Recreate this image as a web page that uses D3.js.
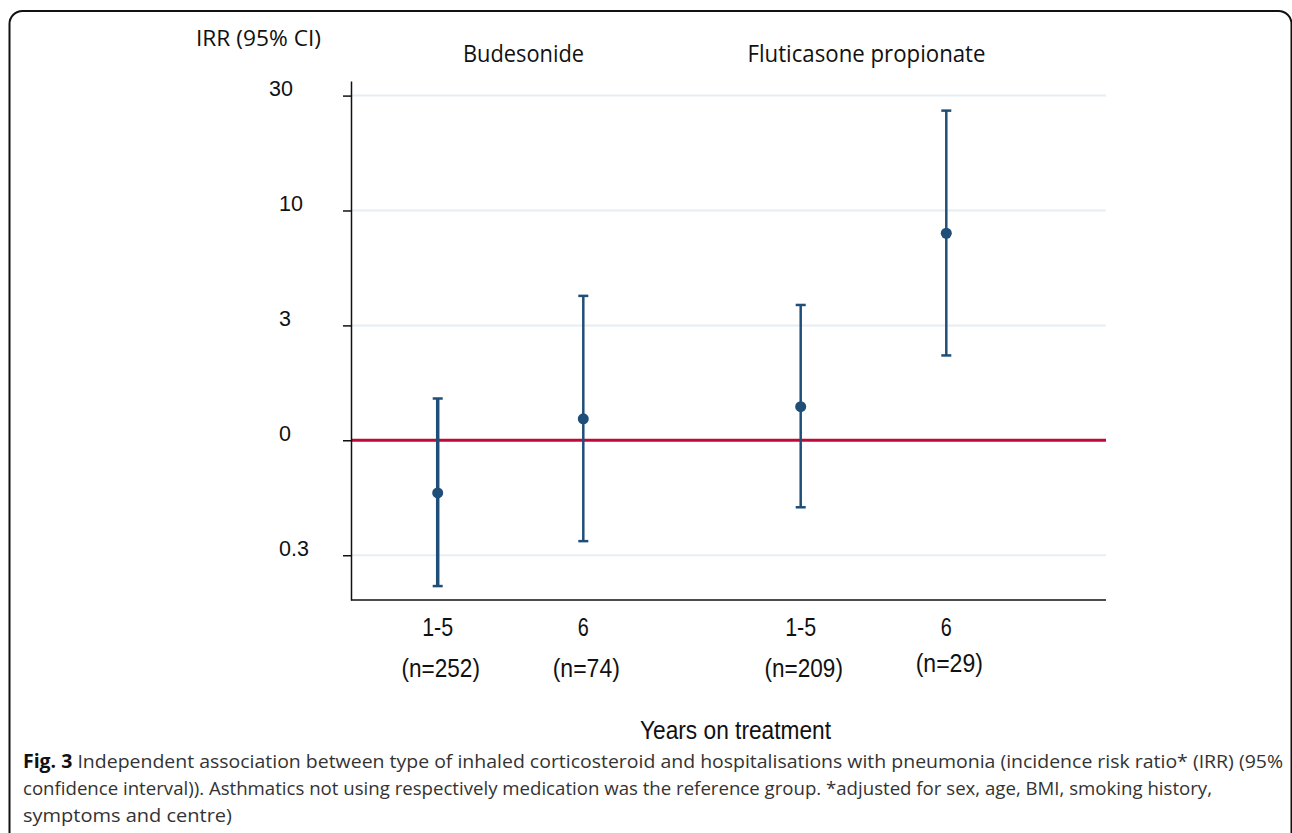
<!DOCTYPE html>
<html>
<head>
<meta charset="utf-8">
<script src="https://cdn.jsdelivr.net/npm/d3@7"></script>
<style>
body { margin: 0; background: #fff; }
svg { display: block; }
.hdr { font-family: "Open Sans", sans-serif; fill: #111; }
.tick text { font-family: "Liberation Sans", Arial, sans-serif; }
.xlab { font-family: "Liberation Sans Narrow", "Liberation Sans", Arial, sans-serif; fill: #111; }
.cap { font-family: "Open Sans", sans-serif; fill: #333; }
</style>
</head>
<body>
<div id="chart"></div>
<script>
// data
const groups = ["Budesonide", "Fluticasone propionate"];
const years = ["1-5", "6"];
const counts = ["(n=252)", "(n=74)", "(n=209)", "(n=29)"];
const irr = [0.59, 1.24, 1.40, 7.96];
const lower = [0.232, 0.364, 0.511, 2.34];
const upper = [1.52, 4.25, 3.88, 27.2];
const tickVals = [0.316, 1, 3.162, 10, 31.62];
const tickLabels = ["0.3", "0", "3", "10", "30"];

const svgWidth = 1292, svgHeight = 833;

const svg = d3.select("#chart")
  .append("svg")
  .attr("width", svgWidth)
  .attr("height", svgHeight);

// frame (open at the bottom)
svg.append("rect")
  .attr("x", 9.5).attr("y", 11)
  .attr("width", 1282).attr("height", 860)
  .attr("rx", 13)
  .attr("fill", "none")
  .attr("stroke", "#111")
  .attr("stroke-width", 2);

const plot = { left: 351, right: 1106, top: 81, bottom: 600 };

const y = d3.scaleLog()
  .domain([0.2018, 36.6])
  .range([plot.bottom, plot.top]);

const xGroup = d3.scalePoint().domain(groups).range([510.5, 873.5]);
const xYear = d3.scalePoint().domain(years).range([-72.8, 72.8]);

const rows = irr.map((v, i) => ({
  group: groups[Math.floor(i / 2)],
  year: years[i % 2],
  n: counts[i],
  irr: v,
  lo: lower[i],
  hi: upper[i]
}));
const xPos = d => xGroup(d.group) + xYear(d.year);

// gridlines
svg.append("g")
  .selectAll("line")
  .data(tickVals.filter(t => t !== 1))
  .enter()
  .append("line")
  .attr("x1", plot.left).attr("x2", plot.right)
  .attr("y1", d => y(d)).attr("y2", d => y(d))
  .attr("stroke", "#e6eef2")
  .attr("stroke-width", 2);

// reference line at IRR = 1
svg.append("line")
  .attr("x1", plot.left).attr("x2", plot.right)
  .attr("y1", y(1)).attr("y2", y(1))
  .attr("stroke", "#c00a35")
  .attr("stroke-width", 3);

// y axis
const yAxis = svg.append("g")
  .attr("transform", `translate(${plot.left},0)`)
  .call(d3.axisLeft(y).tickValues(tickVals).tickFormat((d, i) => tickLabels[i]).tickSize(8).tickSizeOuter(0));
yAxis.select(".domain").attr("stroke", "#111").attr("stroke-width", 1.5);
yAxis.selectAll(".tick line").attr("stroke", "#111").attr("stroke-width", 1.5);
yAxis.selectAll(".tick text")
  .attr("x", (d, i) => i === 4 ? -82 : -72)
  .attr("dy", 0)
  .attr("text-anchor", "start")
  .style("font-size", "21.5px")
  .attr("fill", "#111");

// x axis line
svg.append("line")
  .attr("x1", plot.left).attr("x2", plot.right)
  .attr("y1", plot.bottom).attr("y2", plot.bottom)
  .attr("stroke", "#111")
  .attr("stroke-width", 1.5);

// error bars
const blue = "#1f4e79";
const bars = svg.append("g");
bars.selectAll(".ci")
  .data(rows)
  .enter()
  .append("line")
  .attr("x1", xPos).attr("x2", xPos)
  .attr("y1", d => y(d.lo)).attr("y2", d => y(d.hi))
  .attr("stroke", blue)
  .attr("stroke-width", (d, i) => i === 0 ? 3.5 : 2.5);

["lo", "hi"].forEach(k => {
  bars.selectAll(".cap-" + k)
    .data(rows)
    .enter()
    .append("line")
    .attr("x1", d => xPos(d) - 5).attr("x2", d => xPos(d) + 5)
    .attr("y1", d => y(d[k])).attr("y2", d => y(d[k]))
    .attr("stroke", blue)
    .attr("stroke-width", 2.5);
});

bars.selectAll("circle")
  .data(rows)
  .enter()
  .append("circle")
  .attr("cx", xPos)
  .attr("cy", d => y(d.irr))
  .attr("r", 5.5)
  .attr("fill", blue);

// x labels
svg.selectAll(".yr")
  .data(rows)
  .enter()
  .append("text")
  .attr("class", "xlab")
  .attr("x", xPos)
  .attr("y", 636)
  .attr("text-anchor", "middle")
  .style("font-size", "25px")
  .attr("textLength", d => d.year === "6" ? 11 : 31)
  .attr("lengthAdjust", "spacingAndGlyphs")
  .text(d => d.year);

svg.selectAll(".nn")
  .data(rows)
  .enter()
  .append("text")
  .attr("class", "xlab")
  .attr("x", d => xPos(d) + 3)
  .attr("y", (d, i) => i === 3 ? 672 : 677)
  .attr("text-anchor", "middle")
  .style("font-size", "25px")
  .attr("textLength", d => d.n.length * 11.2)
  .attr("lengthAdjust", "spacingAndGlyphs")
  .text(d => d.n);

svg.append("text")
  .attr("class", "xlab")
  .attr("x", 735.5)
  .attr("y", 739)
  .attr("text-anchor", "middle")
  .style("font-size", "26px")
  .attr("textLength", 191)
  .attr("lengthAdjust", "spacingAndGlyphs")
  .text("Years on treatment");

// headers
svg.append("text")
  .attr("class", "hdr")
  .attr("x", 196).attr("y", 46)
  .style("font-size", "21.5px")
  .attr("textLength", 125)
  .attr("lengthAdjust", "spacingAndGlyphs")
  .text("IRR (95% CI)");

svg.selectAll(".grp")
  .data(groups)
  .enter()
  .append("text")
  .attr("class", "hdr")
  .attr("x", (d, i) => xGroup(d) + (i === 0 ? 13 : -7))
  .attr("y", 62)
  .attr("text-anchor", "middle")
  .style("font-size", "23px")
  .attr("textLength", (d, i) => i === 0 ? 121 : 238)
  .attr("lengthAdjust", "spacingAndGlyphs")
  .text(d => d);

// caption
const cap1 = svg.append("text")
  .attr("class", "cap")
  .attr("x", 23).attr("y", 768)
  .style("font-size", "19px")
  .attr("textLength", 1260)
  .attr("lengthAdjust", "spacingAndGlyphs");
cap1.append("tspan").attr("font-weight", "bold").attr("fill", "#111").text("Fig. 3");
cap1.append("tspan").text(" Independent association between type of inhaled corticosteroid and hospitalisations with pneumonia (incidence risk ratio* (IRR) (95%");

svg.append("text")
  .attr("class", "cap")
  .attr("x", 23).attr("y", 795)
  .style("font-size", "19px")
  .attr("textLength", 1189)
  .attr("lengthAdjust", "spacingAndGlyphs")
  .text("confidence interval)). Asthmatics not using respectively medication was the reference group. *adjusted for sex, age, BMI, smoking history,");

svg.append("text")
  .attr("class", "cap")
  .attr("x", 23).attr("y", 822)
  .style("font-size", "19px")
  .attr("textLength", 209)
  .attr("lengthAdjust", "spacingAndGlyphs")
  .text("symptoms and centre)");
</script>
</body>
</html>
